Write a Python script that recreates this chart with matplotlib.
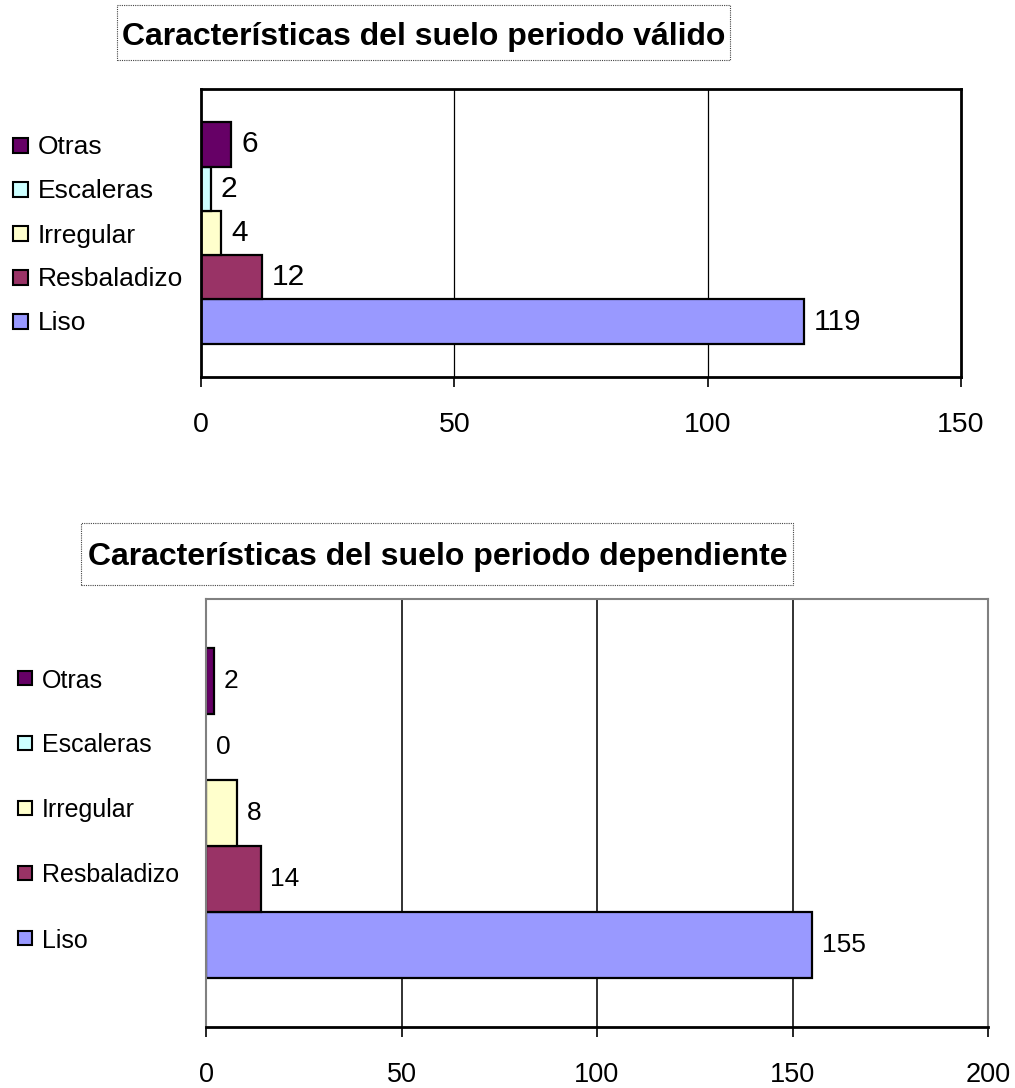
import matplotlib
matplotlib.use("Agg")
import matplotlib.pyplot as plt
from matplotlib.patches import Rectangle

plt.rcParams['font.family'] = ['Liberation Sans', 'DejaVu Sans']

# ---- data ----
categories = ['Liso', 'Resbaladizo', 'Irregular', 'Escaleras', 'Otras']
colors = ['#9999FF', '#993366', '#FFFFCC', '#CCFFFF', '#660066']
valido = [119, 12, 4, 2, 6]
dependiente = [155, 14, 8, 0, 2]
ticks_valido = [0, 50, 100, 150]
ticks_dependiente = [0, 50, 100, 150, 200]
title_valido = 'Características del suelo periodo válido'
title_dependiente = 'Características del suelo periodo dependiente'

W, H = 1015, 1088
fig = plt.figure(figsize=(W / 100, H / 100), dpi=100)


def fx(px):
    return px / W


def fy(py):
    return 1 - py / H


def make_chart(values, ticks, title, ax_box, title_box, title_center,
               leg_x, leg_y0, leg_dy, leg_sq, fs_leg, fs_val, fs_tick,
               spine_col, spine_lw, grid_col, grid_lw):
    l, t, r, b = ax_box
    ax = fig.add_axes([fx(l), fy(b), fx(r) - fx(l), fy(t) - fy(b)])
    n = len(values)
    w = 1 / (n + 1.5)
    ypos = [(i - (n - 1) / 2) * w for i in range(n)]
    ax.set_xlim(ticks[0], ticks[-1])
    ax.set_ylim(-0.5, 0.5)
    ax.set_xticks(ticks)
    ax.set_xticklabels([str(v) for v in ticks], fontsize=fs_tick)
    ax.set_yticks([])
    ax.tick_params(axis='x', length=7, width=1.2, pad=18, color='black')
    ax.get_xticklines()[0].set_color('#888888')
    for tk in ticks[1:-1]:
        ax.axvline(tk, color=grid_col, lw=grid_lw, zorder=0.5)
    for i, (v, c) in enumerate(zip(values, colors)):
        if v > 0:
            ax.barh(ypos[i], v, height=w, color=c, edgecolor='black', lw=1.6, zorder=2)
        ax.annotate(str(v), xy=(v, ypos[i]), xytext=(7, 0), textcoords='offset points',
                    va='center', ha='left', fontsize=fs_val)
    for side, sp in ax.spines.items():
        sp.set_color(spine_col[side])
        sp.set_linewidth(spine_lw[side])
    # legend (top entry = last series)
    for j, i in enumerate(range(n - 1, -1, -1)):
        yc = leg_y0 + j * leg_dy
        fig.add_artist(Rectangle((fx(leg_x[0]), fy(yc + leg_sq / 2)), fx(leg_sq), leg_sq / H,
                                 transform=fig.transFigure, facecolor=colors[i],
                                 edgecolor='black', lw=1.5))
        fig.text(fx(leg_x[1]), fy(yc), categories[i], fontsize=fs_leg,
                 va='center_baseline', ha='left')
    # title box
    bl, bt, br, bb = title_box
    fig.add_artist(Rectangle((fx(bl), fy(bb)), fx(br) - fx(bl), fy(bt) - fy(bb),
                             transform=fig.transFigure, facecolor='white',
                             edgecolor='#444444', lw=0.8, ls=(0, (1, 1))))
    fig.text(fx(title_center[0]), fy(title_center[1]), title, fontsize=23,
             fontweight='bold', ha='center', va='center_baseline')
    return ax


make_chart(valido, ticks_valido, title_valido,
           ax_box=(201, 89, 961, 377), title_box=(117, 5, 730, 60),
           title_center=(424, 33), leg_x=(13, 38), leg_y0=145, leg_dy=44, leg_sq=15,
           fs_leg=19, fs_val=21.5, fs_tick=20.5,
           spine_col={'left': 'black', 'right': 'black', 'top': 'black', 'bottom': 'black'},
           spine_lw={'left': 2, 'right': 2, 'top': 2, 'bottom': 2},
           grid_col='black', grid_lw=0.9)

make_chart(dependiente, ticks_dependiente, title_dependiente,
           ax_box=(206, 599, 988, 1027), title_box=(81, 523, 793, 585),
           title_center=(438, 553), leg_x=(18, 42), leg_y0=678, leg_dy=65, leg_sq=14,
           fs_leg=18, fs_val=19, fs_tick=19.5,
           spine_col={'left': '#808080', 'right': '#808080', 'top': '#808080', 'bottom': 'black'},
           spine_lw={'left': 1.5, 'right': 1.5, 'top': 1.5, 'bottom': 2},
           grid_col='#222222', grid_lw=1.3)

fig.savefig('out.png', dpi=100)
